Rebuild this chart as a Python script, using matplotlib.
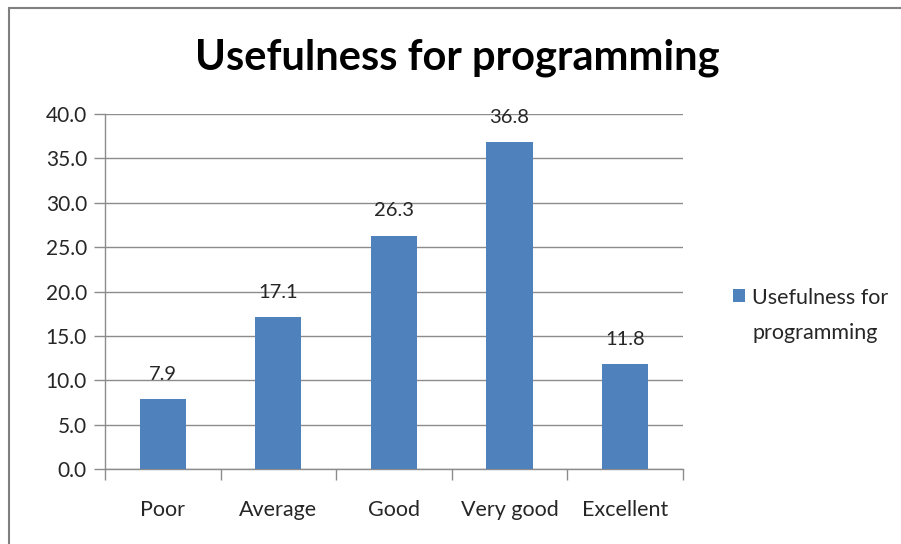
import matplotlib
matplotlib.use("Agg")
import matplotlib.pyplot as plt
from matplotlib.patches import Rectangle

# data
categories = ["Poor", "Average", "Good", "Very good", "Excellent"]
values = [7.9, 17.1, 26.3, 36.8, 11.8]
series_name = "Usefulness for\nprogramming"
yticks = [0, 5, 10, 15, 20, 25, 30, 35, 40]

bar_color = "#4F81BD"
grid_color = "#8C8C8C"
text_color = "#262626"

plt.rcParams["font.family"] = ["Lato", "DejaVu Sans"]

fig = plt.figure(figsize=(9.01, 5.44), dpi=100)
ax = fig.add_axes([0.1165, 0.1379, 0.6415, 0.6525])

x = list(range(len(categories)))
bars = ax.bar(x, values, width=0.4, color=bar_color, label=series_name, zorder=3)

for b, v in zip(bars, values):
    ax.text(b.get_x() + b.get_width() / 2, v + 2.8, f"{v:.1f}",
            ha="center", va="center", fontsize=14.5, color=text_color)

ax.set_xlim(-0.5, len(categories) - 0.5)
ax.set_ylim(0, 40)
ax.set_yticks(yticks)
ax.set_yticklabels([f"{t:.1f}" for t in yticks], fontsize=15, color=text_color)
ax.yaxis.grid(True, color=grid_color, linewidth=1.0, zorder=0)

# category labels centred, tick marks on the boundaries
ax.set_xticks(x)
ax.set_xticklabels(categories, fontsize=15.5, color=text_color)
ax.tick_params(axis="x", length=0, pad=22)
ax.set_xticks([i - 0.5 for i in range(len(categories) + 1)], minor=True)
ax.tick_params(axis="x", which="minor", length=8, color=grid_color, width=1)
ax.tick_params(axis="y", length=8, color=grid_color, width=1, pad=5)

for s in ["top", "right"]:
    ax.spines[s].set_visible(False)
for s in ["left", "bottom"]:
    ax.spines[s].set_color(grid_color)
    ax.spines[s].set_linewidth(1)

fig.text(0.508, 0.893, "Usefulness for programming", ha="center", va="center",
         fontsize=30, fontweight="bold", color="black")

leg = ax.legend(loc="center left", bbox_to_anchor=(0.792, 0.42),
                bbox_transform=fig.transFigure, frameon=False,
                fontsize=15.5, handlelength=0.55, handleheight=0.55,
                handletextpad=0.35, labelcolor=text_color)
for t in leg.get_texts():
    t.set_linespacing(1.95)
# put the legend square next to the first line, like Excel does
h = leg.legend_handles[0]
h.set_y(h.get_y() + 15)

# outer chart border
fig.patches.append(Rectangle((9 / 901, -0.1), 1.2, 1 - 8 / 544 + 0.1,
                             transform=fig.transFigure, fill=False,
                             edgecolor="#808080", linewidth=1.5))

fig.savefig("out.png", dpi=100)
